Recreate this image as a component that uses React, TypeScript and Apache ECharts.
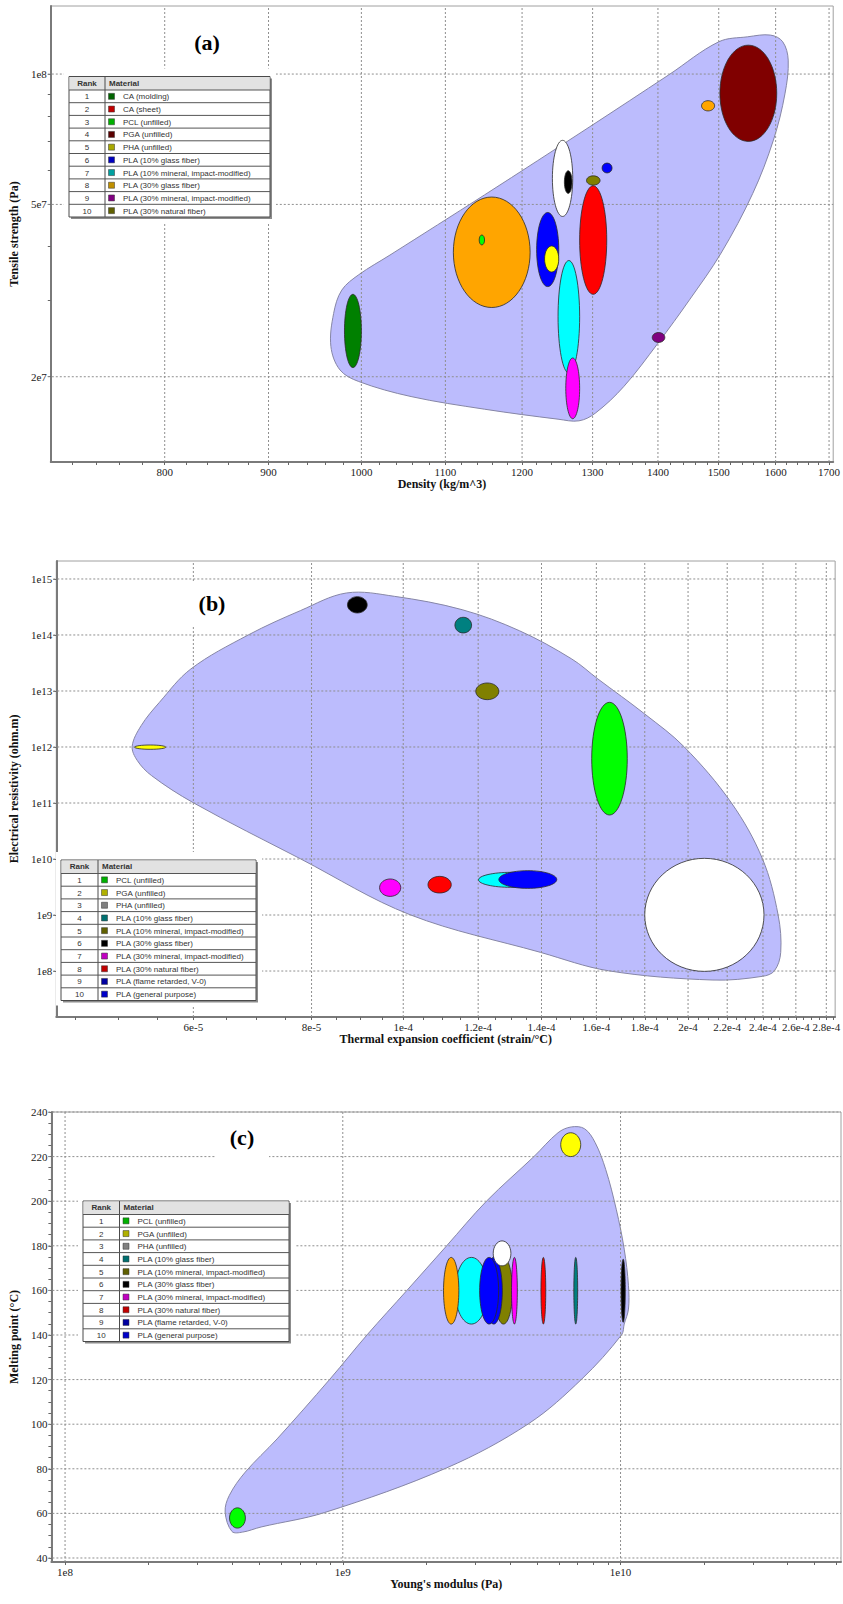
import React, { useEffect, useRef } from "react";
import * as echarts from "echarts";

// ---------- (a) Tensile strength vs density ----------
// each material grade is an ellipse spanning its property ranges
const densityLow = [1110, 981, 1242, 1220, 1250, 1281, 1502, 1231, 1259, 1261, 1143, 1291, 1314, 1391, 1471];
const densityHigh = [1211, 1000, 1271, 1251, 1281, 1321, 1602, 1251, 1270, 1281, 1150, 1311, 1329, 1411, 1493];
const strengthLow = [2.89e7, 2.1e7, 4.69e7, 3.23e7, 2.04e7, 3.1e7, 6.99e7, 3.49e7, 5.3e7, 1.6e7, 4.03e7, 5.54e7, 5.91e7, 2.4e7, 8.22e7];
const strengthHigh = [5.2e7, 3.1e7, 7.03e7, 4.79e7, 3.71e7, 5.52e7, 1.166e8, 4.01e7, 5.98e7, 2.21e7, 4.25e7, 5.82e7, 6.23e7, 2.53e7, 8.68e7];
const bubbleColorsA = ["#ffa500", "#008000", "#ffffff", "#0000ff", "#00ffff", "#ff0000", "#800000", "#ffff00", "#000000", "#ff00ff", "#00ff00", "#808000", "#0000ff", "#800080", "#ffa500"];
const envelopeA = [
  [1500, 1.187e8], [1550, 1.219e8], [1591, 1.23e8], [1613, 1.187e8], [1623, 1.077e8], [1617, 9.0e7],
  [1596, 7.04e7], [1559, 5.3e7], [1504, 3.86e7], [1451, 3.01e7], [1400, 2.39e7], [1347, 1.9e7],
  [1304, 1.648e7], [1280, 1.582e7], [1250, 1.596e7], [1150, 1.683e7], [1058, 1.8e7], [997, 1.95e7],
  [976, 2.074e7], [966, 2.35e7], [969, 2.8e7], [978, 3.17e7], [997, 3.44e7], [1033, 3.82e7],
  [1150, 5.26e7], [1296, 7.56e7], [1417, 9.95e7],
];
const densityTicks = [800, 900, 1000, 1100, 1200, 1300, 1400, 1500, 1600, 1700];
const densityTickLabels = ["800", "900", "1000", "1100", "1200", "1300", "1400", "1500", "1600", "1700"];
const strengthTicks = [2e7, 5e7, 1e8];
const strengthTickLabels = ["2e7", "5e7", "1e8"];
const strengthMinor = [2e7, 3e7, 4e7, 5e7, 6e7, 7e7, 8e7, 9e7, 1e8];
const legendNamesA = ["CA (molding)", "CA (sheet)", "PCL (unfilled)", "PGA (unfilled)", "PHA (unfilled)", "PLA (10% glass fiber)", "PLA (10% mineral, impact-modified)", "PLA (30% glass fiber)", "PLA (30% mineral, impact-modified)", "PLA (30% natural fiber)"];
const legendColorsA = ["#006400", "#c00000", "#00b000", "#5a0000", "#a8a800", "#0000c0", "#00a0a0", "#c09000", "#800080", "#606000"];

// ---------- (b) Electrical resistivity vs thermal expansion ----------
const expansionLow = [1.8e-4, 1.582e-4, 1.193e-4, 1.134e-4, 8.73e-5, 5.2e-5, 9.44e-5, 1.062e-4, 1.201e-4, 1.262e-4];
const expansionHigh = [2.406e-4, 1.725e-4, 1.262e-4, 1.181e-4, 9.16e-5, 5.61e-5, 9.94e-5, 1.124e-4, 1.406e-4, 1.453e-4];
const resistivityLow = [9.86e7, 6.1e10, 7.0e12, 1.086e14, 2.47e14, 9.09e11, 2.15e9, 2.47e9, 3.12e9, 2.99e9];
const resistivityHigh = [1.028e10, 6.28e12, 1.39e13, 2.07e14, 4.84e14, 1.086e12, 4.4e9, 4.9e9, 5.78e9, 6.19e9];
const bubbleColorsB = ["#ffffff", "#00ff00", "#808000", "#008080", "#000000", "#ffff00", "#ff00ff", "#ff0000", "#00ffff", "#0000ff"];
const envelopeB = [
  [5.17e-5, 1.03e12], [5.284e-5, 2.4e12], [5.525e-5, 6.28e12], [5.963e-5, 2.47e13], [6.857e-5, 1e14],
  [7.785e-5, 2.72e14], [8.708e-5, 5.62e14], [9.786e-5, 4.9e14], [1.154e-4, 2.83e14], [1.327e-4, 1.19e14],
  [1.507e-4, 3.73e13], [1.606e-4, 1.64e13], [1.8e-4, 3.88e12], [1.982e-4, 1e12], [2.222e-4, 1.01e11],
  [2.397e-4, 1.01e10], [2.49e-4, 1.01e9], [2.506e-4, 2.15e8], [2.468e-4, 1.01e8], [2.397e-4, 8.04e7],
  [2.125e-4, 6.9e7], [1.648e-4, 1.01e8], [1.397e-4, 2.15e8], [1.017e-4, 1.01e9], [7.785e-5, 1.01e10],
  [6.0e-5, 1.01e11], [5.42e-5, 3.08e11], [5.236e-5, 5.7e11],
];
const expansionTicks = [6e-5, 8e-5, 1e-4, 1.2e-4, 1.4e-4, 1.6e-4, 1.8e-4, 2e-4, 2.2e-4, 2.4e-4, 2.6e-4, 2.8e-4];
const expansionTickLabels = ["6e-5", "8e-5", "1e-4", "1.2e-4", "1.4e-4", "1.6e-4", "1.8e-4", "2e-4", "2.2e-4", "2.4e-4", "2.6e-4", "2.8e-4"];
const resistivityTicks = [1e8, 1e9, 1e10, 1e11, 1e12, 1e13, 1e14, 1e15];
const resistivityTickLabels = ["1e8", "1e9", "1e10", "1e11", "1e12", "1e13", "1e14", "1e15"];

// ---------- (c) Melting point vs Young's modulus ----------
const modulusLow = [3.52e9, 2.54e9, 2.305e9, 3.255e9, 3.11e9, 3.48e9, 4.05e9, 5.17e9, 6.79e9, 1.0045e10, 3.91e8, 6.09e9];
const modulusHigh = [4.08e9, 3.32e9, 2.617e9, 3.753e9, 3.64e9, 4.03e9, 4.25e9, 5.38e9, 7.01e9, 1.04e10, 4.46e8, 7.19e9];
const meltLow = [144.9, 144.9, 144.9, 144.9, 144.9, 171.0, 144.9, 144.9, 144.9, 145.7, 53.4, 220.0];
const meltHigh = [174.8, 174.8, 174.8, 174.8, 174.8, 182.2, 174.8, 174.8, 174.8, 174.0, 62.5, 230.7];
const bubbleColorsC = ["#808000", "#00ffff", "#ffa500", "#0000ff", "#0000ff", "#ffffff", "#ff00ff", "#ff0000", "#008080", "#000000", "#00ff00", "#ffff00"];
const envelopeC = [
  [3.99e8, 51.9], [3.77e8, 60.6], [3.905e8, 68.1], [4.455e8, 78.5], [5.8e8, 93.4], [9.0e8, 120.3],
  [1.224e9, 140.1], [1.702e9, 160], [2.366e9, 180], [3.29e9, 200], [4.885e9, 220.1], [5.955e9, 230.7],
  [6.645e9, 233.3], [7.42e9, 232.5], [8.1e9, 226.3], [8.84e9, 214.3], [9.65e9, 196.4], [1.031e10, 178.5],
  [1.068e10, 162.1], [1.068e10, 151.6], [1.031e10, 144.9], [1.009e10, 140.1], [7.26e9, 120.3],
  [4.676e9, 100.3], [2.366e9, 80.4], [8.61e8, 60.4], [5.08e8, 53.9], [4.356e8, 51.6],
];
const modulusTicks = [1e8, 1e9, 1e10];
const modulusTickLabels = ["1e8", "1e9", "1e10"];
const meltTicks = [40, 60, 80, 100, 120, 140, 160, 180, 200, 220, 240];
const meltTickLabels = ["40", "60", "80", "100", "120", "140", "160", "180", "200", "220", "240"];
const legendNamesBC = ["PCL (unfilled)", "PGA (unfilled)", "PHA (unfilled)", "PLA (10% glass fiber)", "PLA (10% mineral, impact-modified)", "PLA (30% glass fiber)", "PLA (30% mineral, impact-modified)", "PLA (30% natural fiber)", "PLA (flame retarded, V-0)", "PLA (general purpose)"];
const legendColorsBC = ["#00b000", "#b0b000", "#808080", "#007070", "#606000", "#000000", "#c000c0", "#c00000", "#0000a0", "#0000c8"];

// minor tick helpers
function steps(from: number, count: number, step: number) {
  const out: number[] = [];
  for (let i = 0; i < count; i++) out.push(from + i * step);
  return out;
}
function logMinor(fromExp: number, toExp: number, lastMult: number) {
  const out: number[] = [];
  for (let e = fromExp; e <= toExp; e++) {
    for (let m = 1; m <= 9; m++) {
      if (e === toExp && m > lastMult) break;
      out.push(m * Math.pow(10, e));
    }
  }
  return out;
}

const SERIF = "'Liberation Serif', 'Times New Roman', serif";
const SANS = "'Liberation Sans', Arial, sans-serif";

type Panel = {
  rect: { left: number; top: number; width: number; height: number };
  xLog: boolean; yLog: boolean;
  xRange: number[]; yRange: number[];
  xTicks: number[]; xLabels: string[]; xMinor: number[];
  yTicks: number[]; yLabels: string[]; yMinor: number[];
  xName: string; yName: string; xNameGap: number; yNameGap: number;
  xLo: number[]; xHi: number[]; yLo: number[]; yHi: number[]; colors: string[];
  envelope: number[][];
  tag: string; tagPos: number[];
  legend: { left: number; top: number; width: number; rankW: number; names: string[]; colors: string[] };
};

const panels: Panel[] = [
  {
    rect: { left: 39, top: 6, width: 802, height: 456 },
    xLog: true, yLog: true,
    xRange: [703, 1708], yRange: [1.271e7, 1.436e8],
    xTicks: densityTicks, xLabels: densityTickLabels, xMinor: steps(720, 50, 20),
    yTicks: strengthTicks, yLabels: strengthTickLabels, yMinor: strengthMinor,
    xName: "Density (kg/m^3)", yName: "Tensile strength (Pa)", xNameGap: 15, yNameGap: 17,
    xLo: densityLow, xHi: densityHigh, yLo: strengthLow, yHi: strengthHigh, colors: bubbleColorsA,
    envelope: envelopeA,
    tag: "(a)", tagPos: [207, 42.5],
    legend: { left: 69, top: 76.5, width: 201, rankW: 36, names: legendNamesA, colors: legendColorsA },
  },
  {
    rect: { left: 39, top: 561, width: 802, height: 456 },
    xLog: true, yLog: true,
    xRange: [4.298e-5, 2.861e-4], yRange: [1.51e7, 2.094e15],
    xTicks: expansionTicks, xLabels: expansionTickLabels, xMinor: steps(4.5e-5, 49, 5e-6),
    yTicks: resistivityTicks, yLabels: resistivityTickLabels, yMinor: resistivityTicks,
    xName: "Thermal expansion coefficient (strain/\u00B0C)", yName: "Electrical resistivity (ohm.m)", xNameGap: 14, yNameGap: 23,
    xLo: expansionLow, xHi: expansionHigh, yLo: resistivityLow, yHi: resistivityHigh, colors: bubbleColorsB,
    envelope: envelopeB,
    tag: "(b)", tagPos: [212, 603],
    legend: { left: 61, top: 860, width: 195, rankW: 37, names: legendNamesBC, colors: legendColorsBC },
  },
  {
    rect: { left: 40, top: 1112, width: 801, height: 450 },
    xLog: true, yLog: false,
    xRange: [8.93e7, 6.22e10], yRange: [38.2, 240],
    xTicks: modulusTicks, xLabels: modulusTickLabels, xMinor: logMinor(8, 10, 6),
    yTicks: meltTicks, yLabels: meltTickLabels, yMinor: steps(40, 41, 5),
    xName: "Young's modulus (Pa)", yName: "Melting point (\u00B0C)", xNameGap: 15, yNameGap: 18,
    xLo: modulusLow, xHi: modulusHigh, yLo: meltLow, yHi: meltHigh, colors: bubbleColorsC,
    envelope: envelopeC,
    tag: "(c)", tagPos: [242, 1137],
    legend: { left: 83, top: 1201, width: 206, rankW: 36.5, names: legendNamesBC, colors: legendColorsBC },
  },
];

function nearestLabel(ticks: number[], labels: string[]) {
  return (v: number) => {
    let best = 0;
    for (let i = 1; i < ticks.length; i++) {
      if (Math.abs(ticks[i] - v) < Math.abs(ticks[best] - v)) best = i;
    }
    return labels[best];
  };
}

function tableElements(lg: Panel["legend"]) {
  const headH = 13.5;
  const rowH = 12.7;
  const { left, top, width, rankW, names, colors } = lg;
  const h = headH + rowH * names.length;
  const z = 100;
  const els: any[] = [];
  els.push({ type: "rect", z, silent: true, shape: { x: left - 5, y: top - 8, width: width + 11, height: h + 13 }, style: { fill: "#ffffff" } });
  els.push({ type: "rect", z, shape: { x: left + 2, y: top + 2, width, height: h }, style: { fill: "#8c8c8c" } });
  els.push({ type: "rect", z, shape: { x: left, y: top, width, height: h }, style: { fill: "#ffffff", stroke: "#4a4a4a", lineWidth: 1 } });
  els.push({ type: "rect", z, shape: { x: left + 0.5, y: top + 0.5, width: width - 1, height: headH - 0.5 }, style: { fill: "#e2e2e2" } });
  els.push({ type: "line", z, shape: { x1: left + rankW, y1: top, x2: left + rankW, y2: top + h }, style: { stroke: "#4a4a4a", lineWidth: 1 } });
  els.push({ type: "text", z, x: left + rankW / 2, y: top + headH / 2, style: { text: "Rank", fontSize: 8, fontWeight: "bold", fontFamily: SANS, fill: "#333", align: "center", verticalAlign: "middle" } });
  els.push({ type: "text", z, x: left + rankW + 4, y: top + headH / 2, style: { text: "Material", fontSize: 8, fontWeight: "bold", fontFamily: SANS, fill: "#333", align: "left", verticalAlign: "middle" } });
  names.forEach((name, i) => {
    const y0 = top + headH + rowH * i;
    const cy = y0 + rowH / 2;
    els.push({ type: "line", z, shape: { x1: left, y1: y0, x2: left + width, y2: y0 }, style: { stroke: "#555", lineWidth: 1 } });
    els.push({ type: "text", z, x: left + rankW / 2, y: cy + 0.5, style: { text: String(i + 1), fontSize: 8, fontFamily: SANS, fill: "#333", align: "center", verticalAlign: "middle" } });
    els.push({ type: "rect", z, shape: { x: left + rankW + 3.5, y: cy - 3, width: 6, height: 6 }, style: { fill: colors[i], stroke: "#333", lineWidth: 0.5 } });
    els.push({ type: "text", z, x: left + rankW + 18, y: cy + 0.5, style: { text: name, fontSize: 8, fontFamily: SANS, fill: "#333", align: "left", verticalAlign: "middle" } });
  });
  return els;
}

function buildOption() {
  const grid: any[] = [];
  const xAxis: any[] = [];
  const yAxis: any[] = [];
  const series: any[] = [];
  const graphicEls: any[] = [];

  panels.forEach((p, i) => {
    const tx = (v: number) => (p.xLog ? Math.log10(v) : v);
    const ty = (v: number) => (p.yLog ? Math.log10(v) : v);
    const xMin = tx(p.xRange[0]);
    const xMax = tx(p.xRange[1]);
    const yMin = ty(p.yRange[0]);
    const yMax = ty(p.yRange[1]);
    const xT = p.xTicks.map(tx);
    const yT = p.yTicks.map(ty);

    grid.push({ ...p.rect, show: true, borderColor: "#a0a0a0", borderWidth: 1, backgroundColor: "#ffffff" });

    const nameStyle = { fontFamily: SERIF, fontWeight: "bold", fontSize: 12, color: "#111" };
    xAxis.push({
      gridIndex: i, type: "value", min: xMin, max: xMax,
      axisLine: { show: true, onZero: false, lineStyle: { color: "#7a7a7a", width: 2 } },
      axisTick: { show: true, customValues: p.xMinor.map(tx).filter((v) => v >= xMin && v <= xMax), length: 3, lineStyle: { color: "#666" } },
      axisLabel: { customValues: xT, formatter: nearestLabel(xT, p.xLabels), fontFamily: SERIF, fontSize: 11, color: "#222", margin: 4 },
      splitLine: { show: false },
      name: p.xName, nameLocation: "middle", nameGap: p.xNameGap, nameTextStyle: nameStyle,
    });
    yAxis.push({
      gridIndex: i, type: "value", min: yMin, max: yMax,
      axisLine: { show: true, onZero: false, lineStyle: { color: "#7a7a7a", width: 2 } },
      axisTick: { show: true, customValues: p.yMinor.map(ty).filter((v) => v >= yMin && v <= yMax), length: 3, lineStyle: { color: "#666" } },
      axisLabel: { customValues: yT, formatter: nearestLabel(yT, p.yLabels), fontFamily: SERIF, fontSize: 11, color: "#222", margin: 4 },
      splitLine: { show: false },
      name: p.yName, nameLocation: "middle", nameGap: p.yNameGap, nameTextStyle: nameStyle,
    });

    // property envelope around all grades
    const env = p.envelope;
    series.push({
      type: "custom", xAxisIndex: i, yAxisIndex: i, z: 1, silent: true,
      data: [[tx(env[0][0]), ty(env[0][1])]],
      renderItem: (_params: any, api: any) => ({
        type: "polygon",
        shape: { points: env.map((pt) => api.coord([tx(pt[0]), ty(pt[1])])), smooth: 0.35 },
        style: { fill: "#bcbcfd", stroke: "#8686a6", lineWidth: 1 },
      }),
    });

    // dotted grid lines at the labelled ticks
    const dash = { stroke: "#8f8f8f", lineWidth: 1, lineDash: [2, 2] };
    series.push({
      type: "custom", xAxisIndex: i, yAxisIndex: i, z: 2, silent: true,
      data: xT.map((v) => [v, yMin]),
      renderItem: (_params: any, api: any) => {
        const a = api.coord([api.value(0), yMin]);
        const b = api.coord([api.value(0), yMax]);
        return { type: "line", shape: { x1: a[0], y1: a[1], x2: b[0], y2: b[1] }, style: dash };
      },
    });
    series.push({
      type: "custom", xAxisIndex: i, yAxisIndex: i, z: 2, silent: true,
      data: yT.map((v) => [xMin, v]),
      renderItem: (_params: any, api: any) => {
        const a = api.coord([xMin, api.value(1)]);
        const b = api.coord([xMax, api.value(1)]);
        return { type: "line", shape: { x1: a[0] - 3, y1: a[1], x2: b[0], y2: b[1] }, style: dash };
      },
    });

    // material ellipses
    series.push({
      type: "custom", xAxisIndex: i, yAxisIndex: i, z: 3,
      encode: { x: [0, 2], y: [1, 3] },
      data: p.xLo.map((_, k) => [tx(p.xLo[k]), ty(p.yLo[k]), tx(p.xHi[k]), ty(p.yHi[k])]),
      renderItem: (params: any, api: any) => {
        const p1 = api.coord([api.value(0), api.value(3)]);
        const p2 = api.coord([api.value(2), api.value(1)]);
        return {
          type: "ellipse",
          shape: { cx: (p1[0] + p2[0]) / 2, cy: (p1[1] + p2[1]) / 2, rx: Math.abs(p2[0] - p1[0]) / 2, ry: Math.abs(p2[1] - p1[1]) / 2 },
          style: { fill: p.colors[params.dataIndex], stroke: "#2a2a2a", lineWidth: 0.8 },
        };
      },
    });

    // panel tag with a white box behind it
    graphicEls.push({ type: "rect", z: 100, shape: { x: p.tagPos[0] - 27, y: p.tagPos[1] - 21, width: 54, height: 44 }, style: { fill: "#ffffff" } });
    graphicEls.push({ type: "text", z: 101, x: p.tagPos[0], y: p.tagPos[1], style: { text: p.tag, fontSize: 22, fontWeight: "bold", fontFamily: SERIF, fill: "#000", align: "center", verticalAlign: "middle" } });

    graphicEls.push(...tableElements(p.legend));
  });

  return {
    animation: false,
    backgroundColor: "#ffffff",
    grid, xAxis, yAxis, series,
    graphic: { elements: graphicEls },
  };
}

export default function App() {
  const ref = useRef<HTMLDivElement>(null);
  useEffect(() => {
    if (!ref.current) return;
    const chart = echarts.init(ref.current, undefined, { renderer: "svg" });
    chart.setOption(buildOption() as any);
    return () => chart.dispose();
  }, []);
  return <div ref={ref} style={{ position: "absolute", left: 0, top: 0, width: 843, height: 1604, background: "#fff" }} />;
}
